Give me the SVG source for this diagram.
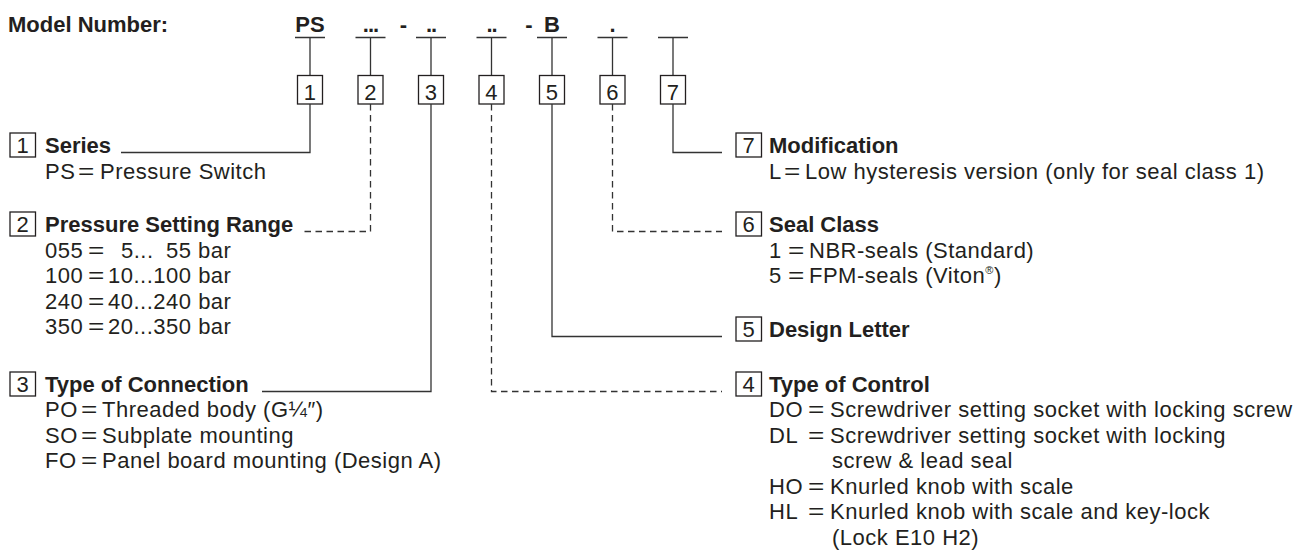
<svg xmlns="http://www.w3.org/2000/svg" width="1313" height="552" viewBox="0 0 1313 552">
  <style>
    .t{font-family:"Liberation Sans",Arial,Helvetica,sans-serif;font-size:22px;fill:#231f20;letter-spacing:0.5px}
    .b{font-weight:bold;letter-spacing:0}
    .c{text-anchor:middle}
    .dots{letter-spacing:-1px}
    .box{fill:none;stroke:#231f20;stroke-width:1.3}
    .ln{fill:none;stroke:#333333;stroke-width:1.3}
    .dash{stroke-dasharray:6.5 4.5}
    .sup{font-size:11px}
  </style>
  <rect width="1313" height="552" fill="#ffffff"/>

  <!-- model code header -->
  <g id="header">
    <text class="t b" x="8" y="31.5">Model Number:</text>
    <text class="t b c" x="403.5" y="31.5">-</text>
    <text class="t b c" x="529" y="31.5">-</text>
  </g>

  <!-- code positions: code letters, underline, stem and number box -->
  <g id="pos-1">
    <text class="t b c" x="310" y="31.5">PS</text>
    <path class="ln" d="M295 37.5H325M310 37.5V75.5"/>
    <rect class="box" x="297.5" y="75.5" width="25" height="28.5"/>
    <text class="t c" x="310" y="99.5">1</text>
  </g>
  <g id="pos-2">
    <text class="t b c dots" x="370.5" y="31.5">...</text>
    <path class="ln" d="M355.5 37.5H385.5M370.5 37.5V75.5"/>
    <rect class="box" x="358" y="75.5" width="25" height="28.5"/>
    <text class="t c" x="370.5" y="99.5">2</text>
  </g>
  <g id="pos-3">
    <text class="t b c dots" x="431" y="31.5">..</text>
    <path class="ln" d="M416 37.5H446M431 37.5V75.5"/>
    <rect class="box" x="418.5" y="75.5" width="25" height="28.5"/>
    <text class="t c" x="431" y="99.5">3</text>
  </g>
  <g id="pos-4">
    <text class="t b c dots" x="491.5" y="31.5">..</text>
    <path class="ln" d="M476.5 37.5H506.5M491.5 37.5V75.5"/>
    <rect class="box" x="479" y="75.5" width="25" height="28.5"/>
    <text class="t c" x="491.5" y="99.5">4</text>
  </g>
  <g id="pos-5">
    <text class="t b c" x="552" y="31.5">B</text>
    <path class="ln" d="M537 37.5H567M552 37.5V75.5"/>
    <rect class="box" x="539.5" y="75.5" width="25" height="28.5"/>
    <text class="t c" x="552" y="99.5">5</text>
  </g>
  <g id="pos-6">
    <text class="t b c" x="612.5" y="31.5">.</text>
    <path class="ln" d="M597.5 37.5H627.5M612.5 37.5V75.5"/>
    <rect class="box" x="600" y="75.5" width="25" height="28.5"/>
    <text class="t c" x="612.5" y="99.5">6</text>
  </g>
  <g id="pos-7">
    <path class="ln" d="M658 37.5H688M673 37.5V75.5"/>
    <rect class="box" x="660.5" y="75.5" width="25" height="28.5"/>
    <text class="t c" x="673" y="99.5">7</text>
  </g>

  <!-- leader lines from each box to its legend entry -->
  <g id="connectors">
    <path class="ln" d="M310 104V152.5H121"/>
    <path class="ln dash" d="M370.5 104V231.5H300"/>
    <path class="ln" d="M431 104V391.5H262"/>
    <path class="ln dash" d="M491.5 104V391.5H722"/>
    <path class="ln" d="M552 104V336.5H722"/>
    <path class="ln dash" d="M612.5 104V231.5H722"/>
    <path class="ln" d="M673 104V152.5H722"/>
  </g>

  <!-- left legend -->
  <g id="legend-1">
    <rect class="box" x="10" y="133" width="25.5" height="24"/>
    <text class="t c" x="22.75" y="152.5">1</text>
    <text class="t b" x="45" y="152.5">Series</text>
    <text class="t" y="178.5"><tspan x="45">PS</tspan><tspan x="78" textLength="17" lengthAdjust="spacingAndGlyphs">=</tspan><tspan x="100">Pressure Switch</tspan></text>
  </g>
  <g id="legend-2">
    <rect class="box" x="10" y="212" width="25.5" height="24"/>
    <text class="t c" x="22.75" y="231.5">2</text>
    <text class="t b" x="45" y="231.5">Pressure Setting Range</text>
    <text class="t" y="257.5"><tspan x="45">055</tspan><tspan x="88" textLength="17" lengthAdjust="spacingAndGlyphs">=</tspan><tspan x="121">5...</tspan><tspan x="166">55 bar</tspan></text>
    <text class="t" y="283"><tspan x="45">100</tspan><tspan x="88" textLength="17" lengthAdjust="spacingAndGlyphs">=</tspan><tspan x="108">10...100 bar</tspan></text>
    <text class="t" y="308.5"><tspan x="45">240</tspan><tspan x="88" textLength="17" lengthAdjust="spacingAndGlyphs">=</tspan><tspan x="108">40...240 bar</tspan></text>
    <text class="t" y="334"><tspan x="45">350</tspan><tspan x="88" textLength="17" lengthAdjust="spacingAndGlyphs">=</tspan><tspan x="108">20...350 bar</tspan></text>
  </g>
  <g id="legend-3">
    <rect class="box" x="10" y="372" width="25.5" height="24"/>
    <text class="t c" x="22.75" y="391.5">3</text>
    <text class="t b" x="45" y="391.5">Type of Connection</text>
    <text class="t" y="417"><tspan x="45">PO</tspan><tspan x="81" textLength="17" lengthAdjust="spacingAndGlyphs">=</tspan><tspan x="102">Threaded body (G¼″)</tspan></text>
    <text class="t" y="442.5"><tspan x="45">SO</tspan><tspan x="81" textLength="17" lengthAdjust="spacingAndGlyphs">=</tspan><tspan x="102">Subplate mounting</tspan></text>
    <text class="t" y="468"><tspan x="45">FO</tspan><tspan x="81" textLength="17" lengthAdjust="spacingAndGlyphs">=</tspan><tspan x="102">Panel board mounting (Design A)</tspan></text>
  </g>

  <!-- right legend -->
  <g id="legend-7">
    <rect class="box" x="736" y="133" width="25.5" height="24"/>
    <text class="t c" x="748.75" y="152.5">7</text>
    <text class="t b" x="769" y="152.5">Modification</text>
    <text class="t" y="178.5"><tspan x="769">L</tspan><tspan x="784" textLength="17" lengthAdjust="spacingAndGlyphs">=</tspan><tspan x="805">Low hysteresis version (only for seal class 1)</tspan></text>
  </g>
  <g id="legend-6">
    <rect class="box" x="736" y="212" width="25.5" height="24"/>
    <text class="t c" x="748.75" y="231.5">6</text>
    <text class="t b" x="769" y="231.5">Seal Class</text>
    <text class="t" y="257.5"><tspan x="769">1</tspan><tspan x="788" textLength="17" lengthAdjust="spacingAndGlyphs">=</tspan><tspan x="809">NBR-seals (Standard)</tspan></text>
    <text class="t" y="283"><tspan x="769">5</tspan><tspan x="788" textLength="17" lengthAdjust="spacingAndGlyphs">=</tspan><tspan x="809">FPM-seals (Viton</tspan><tspan class="sup" dy="-9">®</tspan><tspan dy="9">)</tspan></text>
  </g>
  <g id="legend-5">
    <rect class="box" x="736" y="317" width="25.5" height="24"/>
    <text class="t c" x="748.75" y="336.5">5</text>
    <text class="t b" x="769" y="336.5">Design Letter</text>
  </g>
  <g id="legend-4">
    <rect class="box" x="736" y="372" width="25.5" height="24"/>
    <text class="t c" x="748.75" y="391.5">4</text>
    <text class="t b" x="769" y="391.5">Type of Control</text>
    <text class="t" y="417"><tspan x="769">DO</tspan><tspan x="808" textLength="17" lengthAdjust="spacingAndGlyphs">=</tspan><tspan x="830">Screwdriver setting socket with locking screw</tspan></text>
    <text class="t" y="442.5"><tspan x="769">DL</tspan><tspan x="808" textLength="17" lengthAdjust="spacingAndGlyphs">=</tspan><tspan x="830">Screwdriver setting socket with locking</tspan></text>
    <text class="t" x="832" y="468">screw &amp; lead seal</text>
    <text class="t" y="493.5"><tspan x="769">HO</tspan><tspan x="808" textLength="17" lengthAdjust="spacingAndGlyphs">=</tspan><tspan x="830">Knurled knob with scale</tspan></text>
    <text class="t" y="519"><tspan x="769">HL</tspan><tspan x="808" textLength="17" lengthAdjust="spacingAndGlyphs">=</tspan><tspan x="830">Knurled knob with scale and key-lock</tspan></text>
    <text class="t" x="832" y="544.5">(Lock E10 H2)</text>
  </g>
</svg>
